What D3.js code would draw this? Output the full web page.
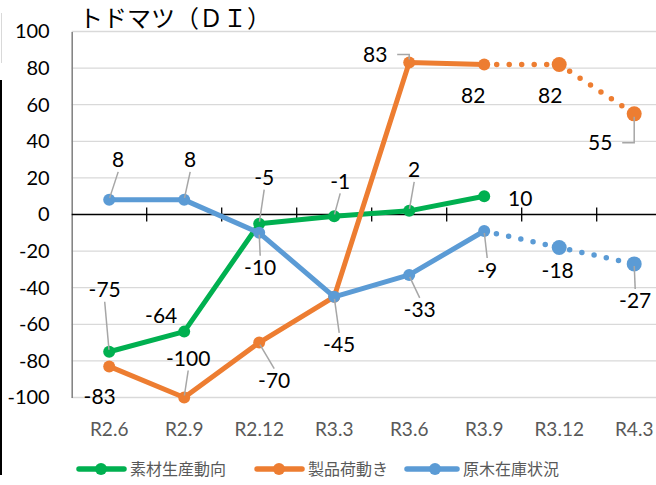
<!DOCTYPE html>
<html><head><meta charset="utf-8">
<script src="https://cdn.jsdelivr.net/npm/d3@7"></script>
<style>html,body{margin:0;padding:0;background:#fff;overflow:hidden}</style>
</head><body><svg id="c" width="656" height="485"></svg>
<script>
const title = "トドマツ（ＤＩ）";
const categories = ["R2.6","R2.9","R2.12","R3.3","R3.6","R3.9","R3.12","R4.3"];
const yTicks = [100,80,60,40,20,0,-20,-40,-60,-80,-100];
const seriesNames = ["素材生産動向","製品荷動き","原木在庫状況"];
const production = [-75,-64,-5,-1,2,10,null,null];
const shipments = [-83,-100,-70,-45,83,82,null,null];
const shipmentsForecast = [null,null,null,null,null,82,82,55];
const inventory = [8,8,-10,-45,-33,-9,null,null];
const inventoryForecast = [null,null,null,null,null,-9,-18,-27];

// label layout (dx, dy of label centre from point; leader type)
const prodLabels = [[-4.5,-62,"l"],[-23,-16,""],[5,-46,"l"],[6,-35,"l"],[5,-41,"l"],[36,2,""],null,null];
const shipLabels = [[-9.5,30,""],[4,-39,"l"],[15,38,"l"],null,[-34,-8,"e"],[-11,31,""],null,null];
const shipFcLabels = [null,null,null,null,null,null,[-9,31,""],[-34,29,"e"]];
const invLabels = [[9,-40,"l"],[6,-40,"l"],[1,35,"l"],[5,48,"l"],[10.5,35,"l"],[3,39,"l"],null,null];
const invFcLabels = [null,null,null,null,null,null,[-1.5,23,""],[1,37,"l"]];

const fmt = v => String(v);
const colors = ["#00B050","#ED7D31","#5B9BD5"];
const svg = d3.select("#c");
const x0 = 71.7, bandW = 75;
const x = d3.scaleBand().domain(categories).range([x0, x0 + bandW*categories.length]).paddingInner(0).paddingOuter(0);
const y = d3.scaleLinear().domain([-100,100]).range([397.5,31.5]);
const cx = c => x(c) + x.bandwidth()/2;

// frame remnants at left
svg.append("line").attr("x1",1.5).attr("x2",1.5).attr("y1",13).attr("y2",63).attr("stroke","#d9d9d9").attr("stroke-width",1);
svg.append("line").attr("x1",1).attr("x2",1).attr("y1",80).attr("y2",475).attr("stroke","#000").attr("stroke-width",2);

// gridlines
svg.append("g").selectAll("line").data(yTicks.filter(d=>d!==0)).join("line")
  .attr("x1",x0).attr("x2",680).attr("y1",d=>y(d)).attr("y2",d=>y(d))
  .attr("stroke","#d9d9d9").attr("stroke-width",1.3);

// y axis
const ya = svg.append("g").attr("transform",`translate(${x0},0)`)
  .call(d3.axisLeft(y).tickValues(yTicks).tickSize(0).tickPadding(22).tickFormat(fmt));
ya.select(".domain").attr("stroke","#7f7f7f").attr("stroke-width",1.5);
ya.selectAll("text").attr("font-family","Lato, 'Open Sans', sans-serif").attr("font-size",20).attr("fill","#000");

// x axis at zero
const boundaries = d3.range(categories.length+1).map(i => x0 + i*bandW);
svg.append("line").attr("x1",x0).attr("x2",680).attr("y1",y(0)).attr("y2",y(0)).attr("stroke","#000").attr("stroke-width",1.3);
svg.append("g").selectAll("line").data(boundaries.slice(1)).join("line")
  .attr("x1",d=>d).attr("x2",d=>d).attr("y1",y(0)-7).attr("y2",y(0)+7).attr("stroke","#000").attr("stroke-width",1.3);

// category labels
svg.append("g").selectAll("text").data(categories).join("text")
  .attr("x",d=>cx(d)).attr("y",436).attr("text-anchor","middle")
  .attr("font-family","Lato, 'Open Sans', sans-serif").attr("font-size",19).attr("fill","#595959").text(d=>d);

// title
svg.append("text").attr("x",79).attr("y",27).attr("font-family","'Noto Sans CJK JP', sans-serif")
  .attr("font-size",24).attr("fill","#000").text(title);

const lineGen = d3.line().defined(d=>d.v!==null).x(d=>cx(d.c)).y(d=>y(d.v));
const toPts = arr => arr.map((v,i)=>({c:categories[i], v}));

const series = [
  {vals: production, col: colors[0], dotted:false, labels: prodLabels},
  {vals: shipments, col: colors[1], dotted:false, labels: shipLabels},
  {vals: inventory, col: colors[2], dotted:false, labels: invLabels},
  {vals: shipmentsForecast, col: colors[1], dotted:true, labels: shipFcLabels},
  {vals: inventoryForecast, col: colors[2], dotted:true, labels: invFcLabels}
];

const gLines = svg.append("g");
series.forEach(s => {
  const pts = toPts(s.vals);
  const g = gLines.append("g");
  g.append("path").datum(pts).attr("d",lineGen).attr("fill","none").attr("stroke",s.col)
    .attr("stroke-width", s.dotted ? 5.5 : 5)
    .attr("stroke-linecap","round").attr("stroke-linejoin","round")
    .attr("stroke-dasharray", s.dotted ? "0 12.5" : null);
  const mpts = pts.filter((d,i)=>d.v!==null && !(s.dotted && i===5));
  g.selectAll("circle").data(mpts).join("circle")
    .attr("cx",d=>cx(d.c)).attr("cy",d=>y(d.v)).attr("r", s.dotted ? 7.5 : 6).attr("fill",s.col);
});

// data labels
const gLab = svg.append("g");
series.forEach(s => {
  s.vals.forEach((v,i) => {
    const L = s.labels[i];
    if (v === null || !L) return;
    const px = cx(categories[i]), py = y(v);
    const lx = px + L[0], ly = py + L[1];
    if (L[2] === "l") {
      const dir = Math.sign(py - ly);
      gLab.append("line").attr("x1",lx).attr("y1",ly + dir*12)
        .attr("x2",px + (lx-px)*0.05).attr("y2",py - dir*2)
        .attr("stroke","#a6a6a6").attr("stroke-width",1.5);
    } else if (L[2] === "e") {
      const hx = lx + 22;
      gLab.append("polyline").attr("points",`${hx},${ly} ${px},${ly} ${px},${py + (ly<py? -3: 3)}`)
        .attr("fill","none").attr("stroke","#a6a6a6").attr("stroke-width",1.5);
    }
    gLab.append("text").attr("x",lx).attr("y",ly).attr("dy","0.36em").attr("text-anchor","middle")
      .attr("font-family","Lato, 'Open Sans', sans-serif").attr("font-size",21).attr("fill","#000").text(fmt(v));
  });
});

// legend
const legX = [[79,124,101,130],[257,302,279,308],[407,457,435,463]];
const leg = svg.append("g");
seriesNames.forEach((n,i) => {
  const [a,b,m,t] = legX[i];
  leg.append("line").attr("x1",a).attr("x2",b).attr("y1",469).attr("y2",469).attr("stroke",colors[i]).attr("stroke-width",5.5).attr("stroke-linecap","round");
  leg.append("circle").attr("cx",m).attr("cy",469).attr("r",6).attr("fill",colors[i]);
  leg.append("text").attr("x",t).attr("y",469).attr("dy","0.36em").attr("font-family","'Noto Sans CJK JP', sans-serif")
    .attr("font-size",16).attr("fill","#595959").text(n);
});
</script></body></html>
